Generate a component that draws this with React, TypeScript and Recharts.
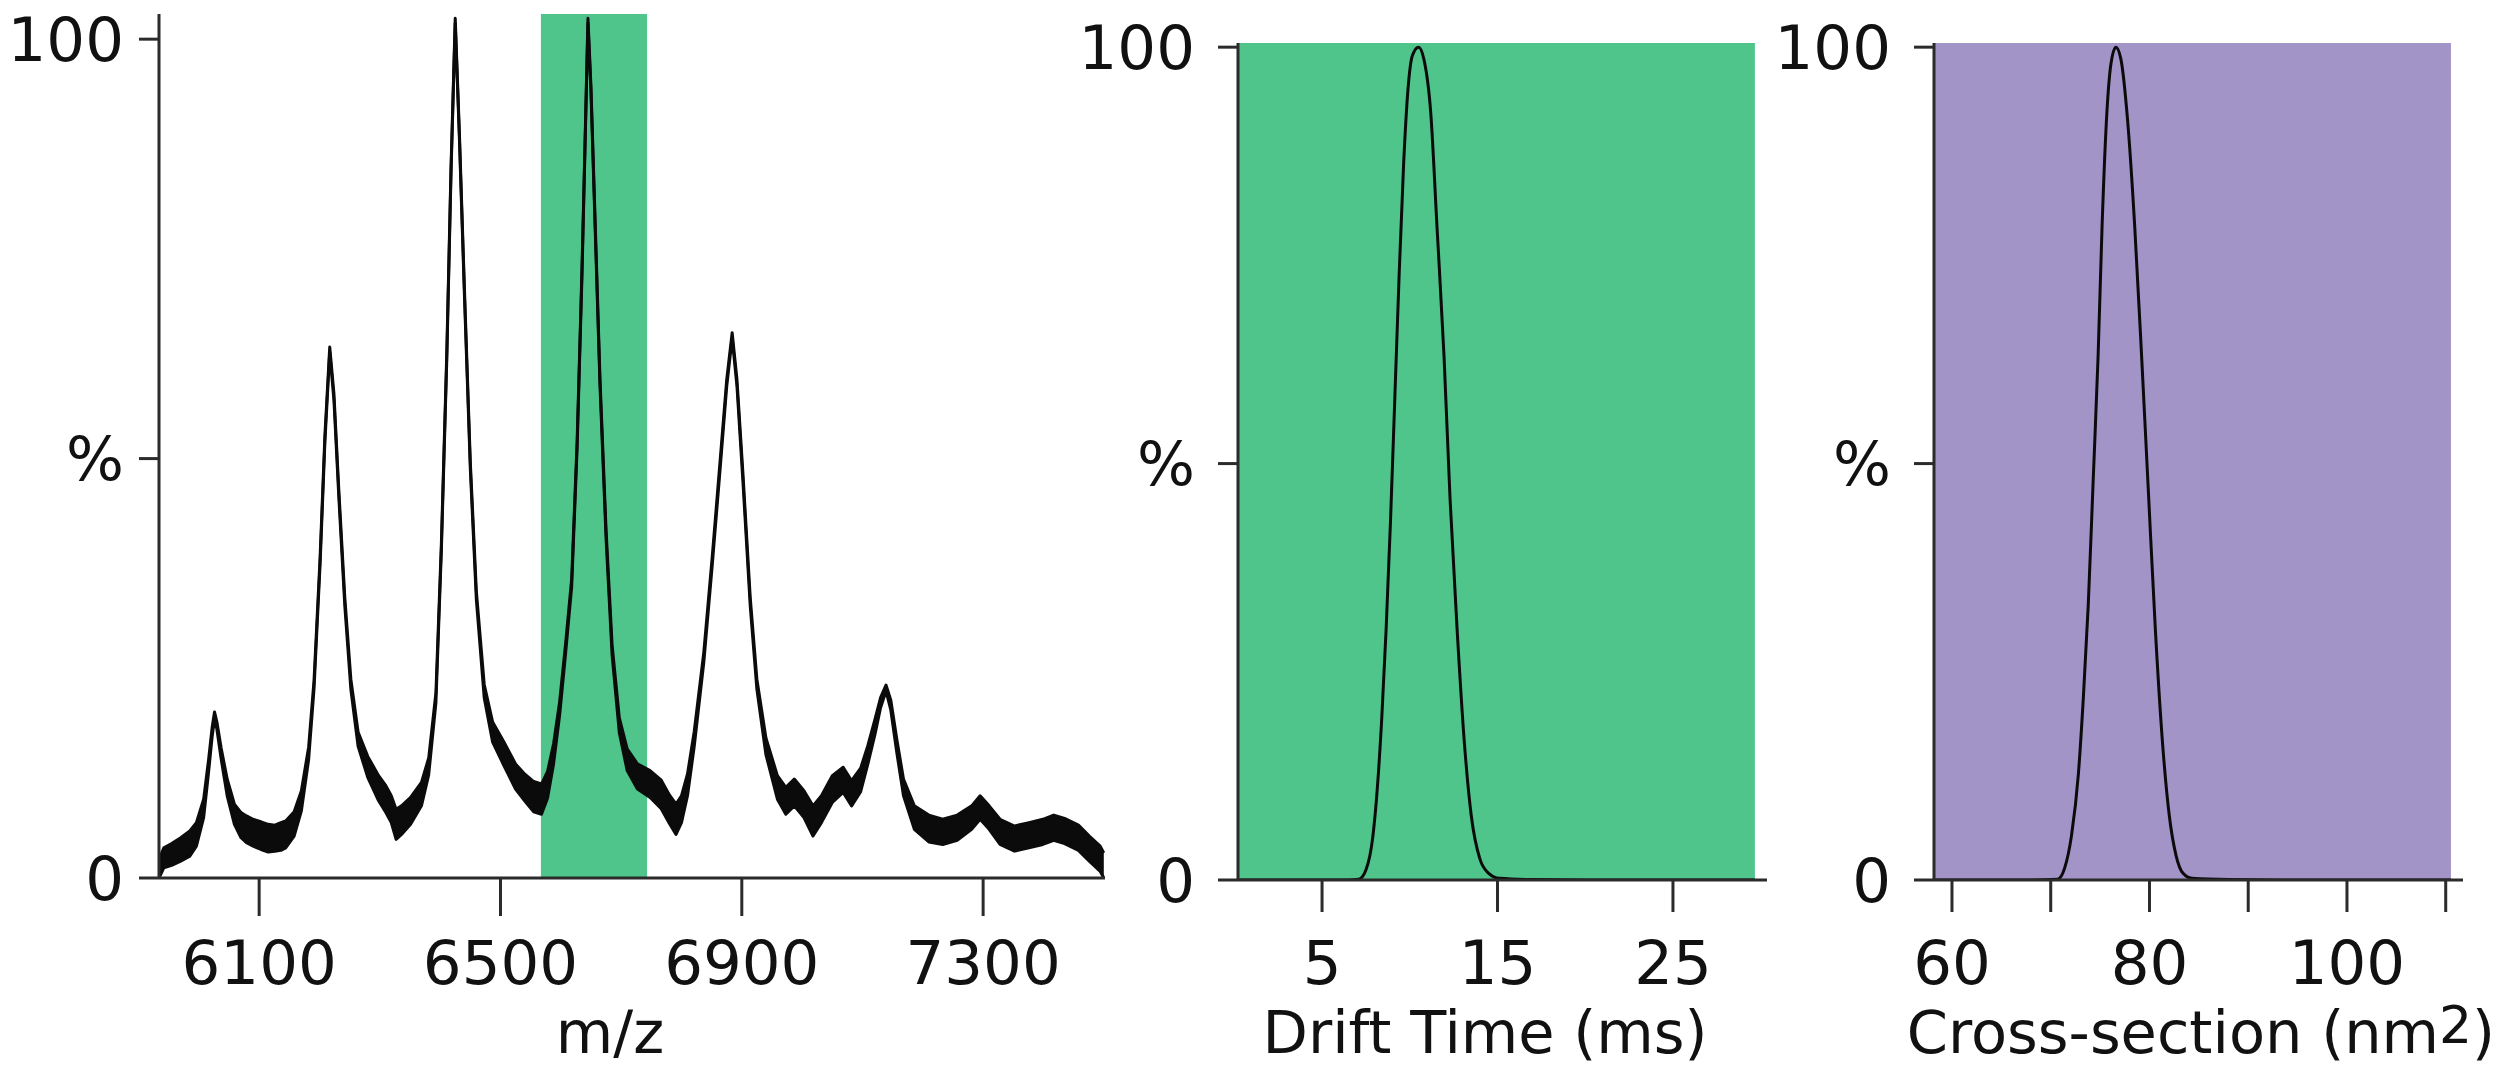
import { ComposedChart, Area, Line, XAxis, YAxis, ReferenceArea } from 'recharts'

const FONT = '"DejaVu Sans", Verdana, sans-serif'
const AXIS = '#2b2b2b'
const INK = '#0b0b0b'
const GREEN = '#50c58b'
const PURPLE = '#a394c8'

// mass spectrum: m/z samples with lower / upper edge of the noisy trace (%)
const mzX = [
  5934, 5942, 5955, 5970, 5985, 5996, 6008, 6016, 6022, 6026, 6030, 6037, 6047, 6059, 6070, 6079,
  6090, 6103, 6115, 6126, 6136, 6144, 6158, 6170, 6182, 6191, 6201, 6209, 6217, 6224, 6232, 6242,
  6252, 6264, 6280, 6298, 6310, 6319, 6327, 6336, 6351, 6369, 6381, 6393, 6402, 6411, 6418, 6425,
  6432, 6440, 6450, 6460, 6473, 6487, 6505, 6525, 6540, 6555, 6568, 6578, 6588, 6598, 6608, 6618,
  6627, 6635, 6641, 6645, 6650, 6657, 6665, 6675, 6685, 6697, 6710, 6727, 6748, 6766, 6780, 6791,
  6800, 6810, 6821, 6837, 6851, 6864, 6875, 6884, 6892, 6902, 6914, 6925, 6940, 6959, 6973, 6987,
  7003, 7018, 7032, 7050, 7068, 7082, 7097, 7109, 7121, 7130, 7139, 7147, 7157, 7168, 7186, 7210,
  7233, 7257, 7281, 7295, 7310, 7328, 7352, 7376, 7399, 7417, 7435, 7458, 7476, 7494, 7500,
]
const mzLow = [
  0, 1.2, 1.5, 2.0, 2.6, 3.8, 7.2, 12.5, 16.8, 19.0, 17.7, 14.2, 9.8, 6.4, 4.8, 4.2,
  3.8, 3.4, 3.1, 3.2, 3.3, 3.6, 5.0, 8.0, 14.1, 22.6, 37.4, 52.0, 62.7, 56.9, 45.5, 32.4,
  22.5, 15.7, 12.0, 9.2, 7.8, 6.6, 4.6, 5.2, 6.4, 8.6, 12.3, 20.9, 39.0, 61.8, 84.0, 101.9,
  88.0, 70.0, 48.8, 33.2, 21.5, 16.2, 13.5, 10.6, 9.2, 7.9, 7.6, 9.5, 13.6, 19.4, 26.8, 34.7,
  51.2, 71.6, 89.7, 101.9, 93.7, 77.3, 58.6, 40.5, 26.6, 17.3, 12.8, 10.6, 9.6, 8.3, 6.5, 5.2,
  6.6, 9.8, 15.6, 25.7, 37.3, 48.7, 58.6, 64.4, 58.6, 47.1, 32.4, 22.5, 14.7, 9.4, 7.6, 8.6,
  7.2, 5.0, 6.6, 9.0, 10.2, 8.6, 10.3, 13.6, 17.2, 20.3, 22.3, 20.0, 14.9, 9.8, 5.8, 4.3,
  4.0, 4.5, 5.8, 7.0, 5.8, 4.0, 3.2, 3.6, 4.0, 4.5, 4.1, 3.3, 2.0, 0.8, 0,
]
const mzHigh = [
  2.2, 3.6, 4.1, 4.8, 5.6, 6.6, 9.4, 14.0, 17.9, 19.8, 18.6, 15.5, 11.8, 8.8, 7.8, 7.4,
  7.0, 6.7, 6.4, 6.3, 6.6, 6.8, 7.9, 10.4, 15.6, 23.6, 38.2, 52.8, 63.3, 57.7, 46.3, 33.4,
  23.7, 17.4, 14.5, 12.2, 11.0, 9.8, 8.2, 8.6, 9.6, 11.4, 14.3, 22.1, 39.8, 62.6, 84.6, 102.5,
  88.6, 70.8, 49.6, 34.2, 23.1, 18.6, 16.3, 13.6, 12.4, 11.5, 11.2, 12.7, 16.0, 21.0, 28.0, 35.7,
  52.0, 72.4, 90.3, 102.5, 94.3, 78.1, 59.4, 41.5, 27.8, 19.1, 15.4, 13.6, 12.8, 11.7, 9.9, 8.8,
  9.8, 12.4, 17.4, 26.9, 38.3, 49.7, 59.4, 65.0, 59.4, 48.1, 33.4, 23.7, 16.7, 12.2, 10.8, 11.8,
  10.4, 8.6, 9.8, 12.2, 13.2, 11.6, 13.1, 15.8, 19.0, 21.5, 23.0, 21.2, 16.5, 11.8, 8.6, 7.5,
  7.0, 7.5, 8.6, 9.8, 8.6, 7.0, 6.2, 6.6, 7.0, 7.5, 7.1, 6.3, 5.0, 3.8, 3.0,
]
const mzTicks = [6100, 6500, 6900, 7300]
const mzWindow = [6567, 6743]

// arrival time distribution of the selected ion
const driftX = [0.21, 5, 6.5, 7.1, 7.5, 7.9, 8.15, 8.4, 8.65, 8.9, 9.15, 9.4, 9.65, 9.9, 10.15, 10.5, 10.8, 11.2, 11.55, 11.95, 12.3, 12.7, 13.1, 13.5, 14.0, 14.5, 15.1, 17, 20, 29.67]
const driftY = [0, 0, 0, 0.1, 1.2, 5.3, 11, 19.3, 30, 43, 58, 73, 86, 95, 99, 100, 98.6, 92, 78.5, 63, 45.6, 30, 16.8, 7.8, 2.5, 0.8, 0.2, 0.05, 0, 0]
const driftTicks = [5, 15, 25]

// collision cross-section distribution
const ccsX = [58.18, 65, 68, 70.7, 71.4, 72.1, 72.8, 73.3, 73.8, 74.3, 74.8, 75.2, 75.7, 76.1, 76.6, 77.1, 77.8, 78.5, 79.2, 79.9, 80.6, 81.3, 82.0, 82.7, 83.4, 84.3, 88, 95, 110.53]
const ccsY = [0, 0, 0, 0.1, 1.4, 5.3, 12.7, 21.8, 33, 48, 63, 78.5, 92.4, 98, 100, 98.6, 91, 78.6, 63, 46.4, 30, 16.8, 7.8, 2.9, 0.8, 0.2, 0.05, 0, 0]
const ccsTicks = [60, 70, 80, 90, 100, 110]
const ccsLabelled = [60, 80, 100]

const pctTicks = [0, 50, 100]
const pctLabels: Record<number, string> = { 0: '0', 50: '%', 100: '100' }

const mzRows = mzX.map((x, i) => ({ x, band: [mzLow[i], mzHigh[i]] }))
const driftRows = driftX.map((x, i) => ({ x, y: driftY[i] }))
const ccsRows = ccsX.map((x, i) => ({ x, y: ccsY[i] }))

const tickFont = { fontSize: 61, fill: '#111', fontFamily: FONT }
const axisStroke = { stroke: AXIS, strokeWidth: 3 }

function title(x: number, content: React.ReactNode) {
  return {
    content: () => (
      <text x={x} y={1053} textAnchor="middle" fontSize={59} fontFamily={FONT} fill="#111">
        {content}
      </text>
    ),
  }
}

function PctAxis({ width, top, margin }: { width: number; top: number; margin: number }) {
  return (
    <YAxis
      type="number"
      domain={[0, top]}
      allowDataOverflow
      ticks={pctTicks}
      tickFormatter={(v) => pctLabels[v] ?? ''}
      width={width}
      tickSize={20}
      tickMargin={margin}
      tick={tickFont}
      axisLine={axisStroke}
      tickLine={axisStroke}
    />
  )
}

export default function App() {
  return (
    <div style={{ position: 'absolute', left: 0, top: 0, width: 2506, height: 1072, background: '#fff' }}>
      <div style={{ position: 'absolute', left: 0, top: 0 }}>
        <ComposedChart width={1120} height={1072} data={mzRows} margin={{ top: 14, right: 15, bottom: 0, left: 0 }}>
          <ReferenceArea x1={mzWindow[0]} x2={mzWindow[1]} y1={0} y2={103} fill={GREEN} fillOpacity={1} stroke="none" />
          <XAxis
            type="number"
            dataKey="x"
            domain={[5934, 7502]}
            allowDataOverflow
            ticks={mzTicks}
            height={194}
            tickSize={38}
            tickMargin={25}
            tick={tickFont}
            axisLine={axisStroke}
            tickLine={axisStroke}
            label={title(610, 'm/z')}
          />
          {PctAxis({ width: 159, top: 103, margin: 15 })}
          <Area
            dataKey="band"
            type="linear"
            stroke={INK}
            strokeWidth={3}
            strokeLinejoin="round"
            fill={INK}
            fillOpacity={1}
            dot={false}
            activeDot={false}
            isAnimationActive={false}
          />
        </ComposedChart>
      </div>

      <div style={{ position: 'absolute', left: 1040, top: 0 }}>
        <ComposedChart width={740} height={1072} data={driftRows} margin={{ top: 43, right: 13, bottom: 0, left: 0 }}>
          <ReferenceArea x1={driftX[0]} x2={driftX[driftX.length - 1]} y1={0} y2={100.5} fill={GREEN} fillOpacity={1} stroke="none" />
          <XAxis
            type="number"
            dataKey="x"
            domain={[0.21, 30.36]}
            allowDataOverflow
            ticks={driftTicks}
            height={192}
            tickSize={32}
            tickMargin={29}
            tick={tickFont}
            axisLine={axisStroke}
            tickLine={axisStroke}
            label={title(445, 'Drift Time (ms)')}
          />
          {PctAxis({ width: 198, top: 100.5, margin: 23 })}
          <Line dataKey="y" type="monotone" stroke={INK} strokeWidth={3} dot={false} activeDot={false} isAnimationActive={false} />
        </ComposedChart>
      </div>

      <div style={{ position: 'absolute', left: 1760, top: 0 }}>
        <ComposedChart width={746} height={1072} data={ccsRows} margin={{ top: 43, right: 43, bottom: 0, left: 0 }}>
          <ReferenceArea x1={ccsX[0]} x2={ccsX[ccsX.length - 1]} y1={0} y2={100.5} fill={PURPLE} fillOpacity={1} stroke="none" />
          <XAxis
            type="number"
            dataKey="x"
            domain={[58.18, 111.75]}
            allowDataOverflow
            ticks={ccsTicks}
            tickFormatter={(v) => (ccsLabelled.includes(v) ? String(v) : '')}
            height={192}
            tickSize={32}
            tickMargin={29}
            tick={tickFont}
            axisLine={axisStroke}
            tickLine={axisStroke}
            label={title(441, (
              <>
                Cross-section (nm<tspan fontSize={52} dy={-10}>2</tspan><tspan dy={10}>)</tspan>
              </>
            ))}
          />
          {PctAxis({ width: 174, top: 100.5, margin: 23 })}
          <Line dataKey="y" type="monotone" stroke={INK} strokeWidth={3} dot={false} activeDot={false} isAnimationActive={false} />
        </ComposedChart>
      </div>
    </div>
  )
}
